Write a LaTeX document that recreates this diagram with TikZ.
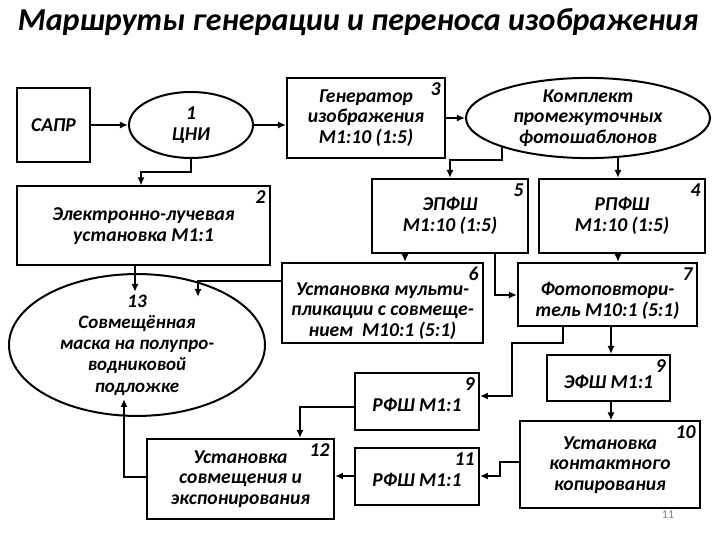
\documentclass[tikz,border=0pt]{standalone}
\usepackage{fontspec}
\setmainfont{Carlito}
\usetikzlibrary{shapes.geometric,arrows.meta}
\begin{document}
\begin{tikzpicture}[x=0.5pt,y=-0.5pt,
  every node/.style={font=\fontsize{9.8}{10.2}\selectfont\bfseries\itshape, align=center},
  box/.style={draw, line width=1pt, rectangle, inner sep=1pt},
  ell/.style={draw, line width=1pt, ellipse, inner sep=0pt},
  num/.style={anchor=north east, inner sep=2.5pt},
  arr/.style={line width=1pt, -{Latex[length=4pt,width=3.5pt]}},
  ln/.style={line width=1pt}]
\useasboundingbox (0,0) rectangle (720,540);
\node[font=\fontsize{16}{18}\selectfont\bfseries\itshape] (title) at (358,22) {Маршруты генерации и переноса изображения};
\node[box, minimum width=36.5pt, minimum height=37pt] (sapr) at (53.5,125) {САПР};
\node[ell, minimum width=62pt, minimum height=33pt] (cni) at (191,125) {1\\ЦНИ};
\node[box, minimum width=79pt, minimum height=40pt] (gen) at (366,118) {Генератор\\изображения\\М1:10 (1:5)};
\node[num] (n3) at (gen.north east) {3};
\node[ell, minimum width=122pt, minimum height=40pt] (komp) at (588,118) {Комплект\\промежуточных\\фотошаблонов};
\node[box, minimum width=126.5pt, minimum height=39.5pt] (b2) at (143.5,226) {Электронно-лучевая\\установка М1:1};
\node[num] (n2) at (b2.north east) {2};
\node[box, minimum width=78pt, minimum height=37pt] (b5) at (450,216) {ЭПФШ\\М1:10 (1:5)};
\node[num] (n5) at (b5.north east) {5};
\node[box, minimum width=83pt, minimum height=37pt] (b4) at (622,216) {РПФШ\\М1:10 (1:5)};
\node[num] (n4) at (b4.north east) {4};
\node[box, minimum width=100.5pt, minimum height=40pt] (b6) at (382.5,303) {};
\node (t6) at (382.5,311) {Установка мульти-\\пликации с совмеще-\\нием~~М10:1 (5:1)};
\node[num] (n6) at (b6.north east) {6};
\node[box, minimum width=89.5pt, minimum height=31.5pt] (b7) at (607.5,294.5) {};
\node (t7) at (607.5,301) {Фотоповтори-\\тель М10:1 (5:1)};
\node[num] (n7) at (b7.north east) {7};
\node[ell, minimum width=128pt, minimum height=54pt, font=\fontsize{9.5}{10.6}\selectfont\bfseries\itshape] (e13) at (137,345) {13\\Совмещённая\\маска на полупро-\\водниковой\\подложке};
\node[box, minimum width=62pt, minimum height=28.5pt] (b9r) at (417,401.5) {\\РФШ М1:1};
\node[num] (n9r) at (b9r.north east) {9};
\node[box, minimum width=61.5pt, minimum height=23pt] (b9e) at (608.5,378) {\\ЭФШ М1:1};
\node[num] (n9e) at (b9e.north east) {9};
\node[box, minimum width=90pt, minimum height=43.5pt] (b10) at (610,465) {Установка\\контактного\\копирования};
\node[num] (n10) at (b10.north east) {10};
\node[box, minimum width=62pt, minimum height=28.5pt] (b11) at (417,476.5) {\\РФШ М1:1};
\node[num] (n11) at (b11.north east) {11};
\node[box, minimum width=93.5pt, minimum height=40pt] (b12) at (240.5,479) {Установка\\совмещения и\\экспонирования};
\node[num] (n12) at (b12.north east) {12};
\node[font=\fontsize{6}{7}\selectfont, text=gray] (pg) at (668,515) {11};
% connectors
\coordinate (k1) at (502,146);
\coordinate (k2) at (618,157);
\coordinate (t13) at (198,297);
\draw[arr] (sapr) -- (cni);
\draw[arr] (cni) -- (gen.west |- cni);
\draw[arr] (cni.south) -- (191,172) -| (141,0 |- b2.north);
\draw[arr] (gen.east) -- (komp.west |- gen.east);
\draw[arr] (k1) -- (502,160) -| (450,0 |- b5.north);
\draw[arr] (k2) -- (618,0 |- b4.north);
\draw[arr] (405,0 |- b5.south) -- (405,0 |- b6.north);
\draw[arr] (495,0 |- b5.south) |- (b7.west |- 0,295);
\draw[arr] (618,0 |- b4.south) -- (618,0 |- b7.north);
\draw[arr] (135,0 |- b2.south) -- (135,292);
\draw[arr] (b6.west |- 0,281) -| (t13);
\draw[arr] (563,0 |- b7.south) -- (563,343) -| (512,396) -- (b9r.east |- 0,396);
\draw[arr] (611,0 |- b7.south) -- (611,0 |- b9e.north);
\draw[arr] (611,0 |- b9e.south) -- (611,0 |- b10.north);
\draw[arr] (b10.west |- 0,462) -| (500,476) -- (b11.east |- 0,476);
\draw[arr] (b11.west |- 0,476) -- (b12.east |- 0,476);
\draw[arr] (b9r.west |- 0,407) -| (300,0 |- b12.north);
\draw[arr] (b12.west |- 0,477) -| (124,399);
\end{tikzpicture}
\end{document}
